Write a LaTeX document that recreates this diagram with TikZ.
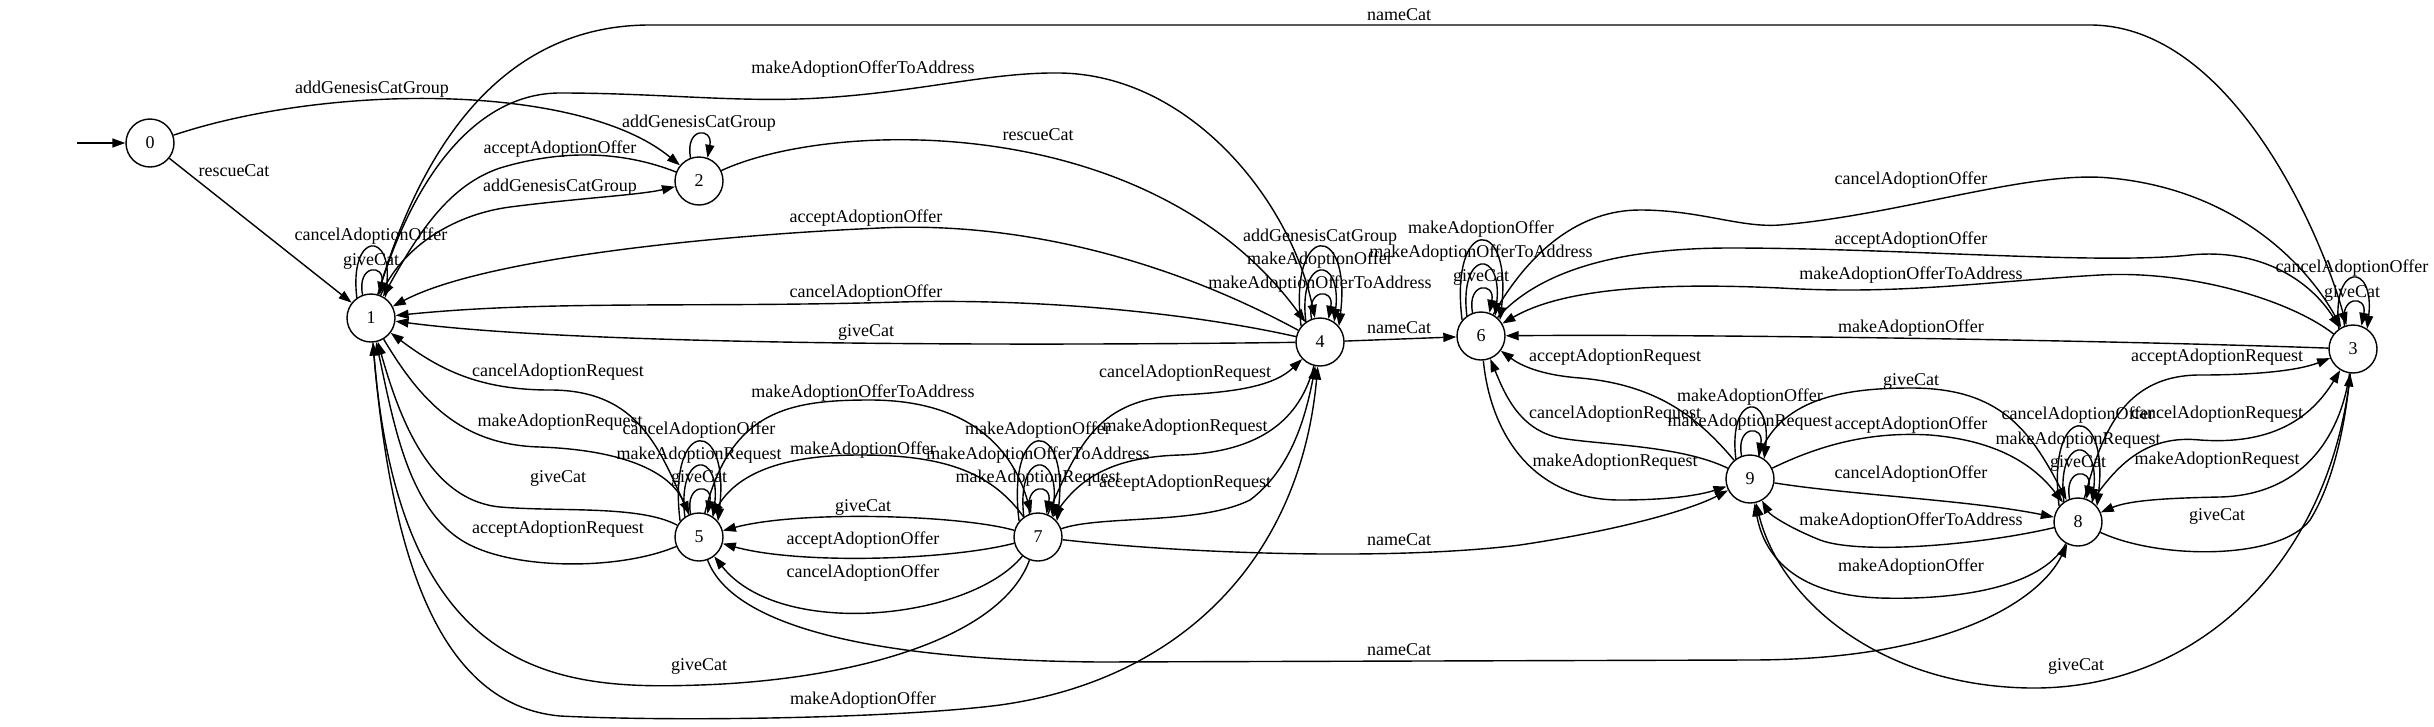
\documentclass[tikz,border=0pt]{standalone}
\usepackage{fontspec}
\setmainfont{Liberation Serif}
\usetikzlibrary{arrows.meta}
\begin{document}
\begin{tikzpicture}[x=1pt,y=-1pt,
  st/.style={circle,draw,line width=1.4pt,minimum size=48pt,inner sep=0pt,font=\fontsize{18}{20}\selectfont},
  e/.style={line width=1.4pt,-{Triangle[length=13pt,width=9pt]}},
  lbl/.style={font=\fontsize{18}{20}\selectfont,inner sep=0pt}]
\useasboundingbox (0,0) rectangle (2434,726);
% states
\node[st] (n0) at (150,143) {0};
\node[st] (n1) at (371,318) {1};
\node[st] (n2) at (699,181) {2};
\node[st] (n5) at (699,537) {5};
\node[st] (n7) at (1038,537) {7};
\node[st] (n4) at (1320,342) {4};
\node[st] (n6) at (1481,336) {6};
\node[st] (n9) at (1750,479) {9};
\node[st] (n8) at (2078,522) {8};
\node[st] (n3) at (2353,349) {3};
\coordinate (init) at (77,143);
\draw[e] (init) -- (n0);
% 0
\draw[e] (n0) .. controls (330,83) and (580,83) .. (n2);
\draw[e] (n0) -- (n1);
% 2
\draw[e] (n2.110) .. controls +(-6,-31) and +(6,-31) .. (n2.70);
\draw[e] (n2) .. controls (620,150) and (560,150) .. (500,168) .. controls (450,185) and (420,230) .. (n1);
\draw[e] (n1) .. controls (400,250) and (450,215) .. (510,207) .. controls (580,198) and (640,195) .. (n2);
\draw[e] (n2) .. controls (830,120) and (1150,110) .. (n4);
% 1
\draw[e] (n1.110) .. controls +(-6,-31) and +(6,-31) .. (n1.70);
\draw[e] (n1.125) .. controls +(-8,-67) and +(8,-67) .. (n1.55);
\draw[e] (n1) .. controls (420,150) and (500,25) .. (650,25) -- (2090,25) .. controls (2230,25) and (2320,230) .. (n3);
\draw[e] (n1) .. controls (415,170) and (480,93) .. (560,93) .. controls (660,93) and (740,103) .. (820,98) .. controls (920,92) and (990,72) .. (1060,73) .. controls (1190,75) and (1290,200) .. (n4);
\draw[e] (n1) .. controls (420,400) and (460,445) .. (540,447) .. controls (620,450) and (670,470) .. (n5);
\draw[e] (n1) .. controls (390,560) and (440,705) .. (560,716) .. controls (680,722) and (900,718) .. (1000,705) .. controls (1180,680) and (1300,560) .. (n4);
% 4
\draw[e] (n4.110) .. controls +(-6,-31) and +(6,-31) .. (n4.70);
\draw[e] (n4.125) .. controls +(-8,-67) and +(8,-67) .. (n4.55);
\draw[e] (n4.140) .. controls +(-13,-105) and +(13,-105) .. (n4.40);
\draw[e] (n4) .. controls (1150,250) and (1000,222) .. (880,228) .. controls (700,236) and (480,260) .. (n1);
\draw[e] (n4) .. controls (1200,315) and (1050,298) .. (900,302) .. controls (700,308) and (550,300) .. (n1);
\draw[e] (n4) .. controls (1100,345) and (600,348) .. (n1);
\draw[e] (n4) -- (n6);
\draw[e] (n4) .. controls (1300,420) and (1260,452) .. (1180,455) .. controls (1110,457) and (1080,480) .. (n7);
% 5
\draw[e] (n5.110) .. controls +(-6,-31) and +(6,-31) .. (n5.70);
\draw[e] (n5.125) .. controls +(-8,-67) and +(8,-67) .. (n5.55);
\draw[e] (n5.140) .. controls +(-13,-105) and +(13,-105) .. (n5.40);
\draw[e] (n5) .. controls (660,450) and (640,390) .. (550,390) .. controls (480,390) and (440,370) .. (n1);
\draw[e] (n5) .. controls (640,505) and (560,512) .. (500,507) .. controls (430,500) and (400,420) .. (n1);
\draw[e] (n5) .. controls (620,570) and (520,570) .. (470,545) .. controls (410,515) and (395,430) .. (n1);
\draw[e] (n5) .. controls (730,410) and (790,400) .. (870,400) .. controls (960,400) and (1010,440) .. (n7);
\draw[e] (n5) .. controls (730,620) and (850,660) .. (1100,662) -- (1750,660) .. controls (1950,660) and (2040,600) .. (n8);
% 7
\draw[e] (n7.110) .. controls +(-6,-31) and +(6,-31) .. (n7.70);
\draw[e] (n7.125) .. controls +(-8,-67) and +(8,-67) .. (n7.55);
\draw[e] (n7.140) .. controls +(-13,-105) and +(13,-105) .. (n7.40);
\draw[e] (n7) .. controls (990,470) and (940,455) .. (860,455) .. controls (790,455) and (740,470) .. (n5);
\draw[e] (n7) .. controls (960,515) and (800,510) .. (n5);
\draw[e] (n7) .. controls (950,560) and (800,565) .. (n5);
\draw[e] (n7) .. controls (970,620) and (780,640) .. (n5);
\draw[e] (n7) .. controls (1080,440) and (1100,400) .. (1180,395) .. controls (1240,392) and (1275,385) .. (n4);
\draw[e] (n7) .. controls (1100,515) and (1200,525) .. (1250,500) .. controls (1290,470) and (1305,420) .. (n4);
\draw[e] (n7) .. controls (1000,640) and (850,680) .. (700,685) .. controls (560,690) and (400,680) .. (n1);
\draw[e] (n7) .. controls (1200,555) and (1400,560) .. (1520,545) .. controls (1620,530) and (1690,510) .. (n9);
% 6
\draw[e] (n6.110) .. controls +(-6,-31) and +(6,-31) .. (n6.70);
\draw[e] (n6.125) .. controls +(-8,-67) and +(8,-67) .. (n6.55);
\draw[e] (n6.140) .. controls +(-13,-105) and +(13,-105) .. (n6.40);
\draw[e] (n6) .. controls (1530,250) and (1580,210) .. (1640,210) .. controls (1700,210) and (1740,228) .. (1780,225) .. controls (1900,215) and (2030,170) .. (2110,178) .. controls (2240,190) and (2310,270) .. (n3);
\draw[e] (n6) .. controls (1540,270) and (1620,248) .. (1730,248) .. controls (1900,248) and (2100,265) .. (2190,255) .. controls (2260,248) and (2310,280) .. (n3);
\draw[e] (n6) .. controls (1490,430) and (1530,500) .. (1620,500) .. controls (1670,500) and (1700,495) .. (n9);
% 3
\draw[e] (n3.110) .. controls +(-6,-31) and +(6,-31) .. (n3.70);
\draw[e] (n3.125) .. controls +(-8,-67) and +(8,-67) .. (n3.55);
\draw[e] (n3) .. controls (2290,300) and (2190,270) .. (2100,275) .. controls (1980,282) and (1900,295) .. (1780,288) .. controls (1650,282) and (1560,290) .. (n6);
\draw[e] (n3) .. controls (2100,340) and (1700,334) .. (n6);
\draw[e] (n3) .. controls (2340,440) and (2300,495) .. (2220,497) .. controls (2170,498) and (2130,500) .. (n8);
\draw[e] (n3) .. controls (2330,560) and (2200,690) .. (2030,688) .. controls (1880,686) and (1780,600) .. (n9);
% 9
\draw[e] (n9.110) .. controls +(-6,-31) and +(6,-31) .. (n9.70);
\draw[e] (n9.125) .. controls +(-8,-67) and +(8,-67) .. (n9.55);
\draw[e] (n9) .. controls (1700,420) and (1660,385) .. (1580,378) .. controls (1540,375) and (1520,365) .. (n6);
\draw[e] (n9) .. controls (1680,445) and (1600,445) .. (1560,438) .. controls (1520,430) and (1505,395) .. (n6);
\draw[e] (n9) .. controls (1780,400) and (1840,388) .. (1911,388) .. controls (2000,388) and (2030,430) .. (n8);
\draw[e] (n9) .. controls (1830,440) and (1880,432) .. (1930,435) .. controls (1990,440) and (2030,460) .. (n8);
\draw[e] (n9) .. controls (1850,495) and (1970,500) .. (n8);
% 8
\draw[e] (n8.110) .. controls +(-6,-31) and +(6,-31) .. (n8.70);
\draw[e] (n8.125) .. controls +(-8,-67) and +(8,-67) .. (n8.55);
\draw[e] (n8.140) .. controls +(-13,-105) and +(13,-105) .. (n8.40);
\draw[e] (n8) .. controls (1980,545) and (1860,555) .. (1820,540) .. controls (1790,528) and (1770,515) .. (n9);
\draw[e] (n8) .. controls (2040,590) and (1950,600) .. (1880,598) .. controls (1800,595) and (1765,560) .. (n9);
\draw[e] (n8) .. controls (2100,440) and (2120,375) .. (2200,375) .. controls (2260,375) and (2300,370) .. (n3);
\draw[e] (n8) .. controls (2120,460) and (2150,435) .. (2200,440) .. controls (2270,445) and (2310,420) .. (n3);
\draw[e] (n8) .. controls (2160,560) and (2280,560) .. (2310,520) .. controls (2335,480) and (2345,420) .. (n3);
% labels
\node[lbl] (l1) at (372,89) {addGenesisCatGroup};
\node[lbl] (l2) at (234,171) {rescueCat};
\node[lbl] (l3) at (699,123) {addGenesisCatGroup};
\node[lbl] (l4) at (560,149) {acceptAdoptionOffer};
\node[lbl] (l5) at (560,187) {addGenesisCatGroup};
\node[lbl] (l6) at (371,236) {cancelAdoptionOffer};
\node[lbl] (l7) at (371,261) {giveCat};
\node[lbl] (l8) at (1399,15) {nameCat};
\node[lbl] (l9) at (863,69) {makeAdoptionOfferToAddress};
\node[lbl] (l10) at (1038,135) {rescueCat};
\node[lbl] (l11) at (866,218) {acceptAdoptionOffer};
\node[lbl] (l12) at (866,293) {cancelAdoptionOffer};
\node[lbl] (l13) at (866,332) {giveCat};
\node[lbl] (l14) at (1399,328) {nameCat};
\node[lbl] (l15) at (1320,237) {addGenesisCatGroup};
\node[lbl] (l16) at (1320,260) {makeAdoptionOffer};
\node[lbl] (l17) at (1320,284) {makeAdoptionOfferToAddress};
\node[lbl] (l18) at (1481,229) {makeAdoptionOffer};
\node[lbl] (l19) at (1481,253) {makeAdoptionOfferToAddress};
\node[lbl] (l20) at (1481,277) {giveCat};
\node[lbl] (l21) at (1911,180) {cancelAdoptionOffer};
\node[lbl] (l22) at (1911,240) {acceptAdoptionOffer};
\node[lbl] (l23) at (1911,275) {makeAdoptionOfferToAddress};
\node[lbl] (l24) at (1911,328) {makeAdoptionOffer};
\node[lbl] (l25) at (2352,268) {cancelAdoptionOffer};
\node[lbl] (l26) at (2352,293) {giveCat};
\node[lbl] (l27) at (1615,357) {acceptAdoptionRequest};
\node[lbl] (l28) at (1615,414) {cancelAdoptionRequest};
\node[lbl] (l29) at (1615,462) {makeAdoptionRequest};
\node[lbl] (l30) at (1750,397) {makeAdoptionOffer};
\node[lbl] (l31) at (1750,422) {makeAdoptionRequest};
\node[lbl] (l32) at (1911,381) {giveCat};
\node[lbl] (l33) at (1911,425) {acceptAdoptionOffer};
\node[lbl] (l34) at (1911,474) {cancelAdoptionOffer};
\node[lbl] (l35) at (1911,521) {makeAdoptionOfferToAddress};
\node[lbl] (l36) at (1911,567) {makeAdoptionOffer};
\node[lbl] (l37) at (2078,415) {cancelAdoptionOffer};
\node[lbl] (l38) at (2078,440) {makeAdoptionRequest};
\node[lbl] (l39) at (2078,463) {giveCat};
\node[lbl] (l40) at (2217,357) {acceptAdoptionRequest};
\node[lbl] (l41) at (2217,414) {cancelAdoptionRequest};
\node[lbl] (l42) at (2217,460) {makeAdoptionRequest};
\node[lbl] (l43) at (2217,516) {giveCat};
\node[lbl] (l44) at (2076,666) {giveCat};
\node[lbl] (l45) at (1399,540) {nameCat};
\node[lbl] (l46) at (1399,650) {nameCat};
\node[lbl] (l47) at (558,372) {cancelAdoptionRequest};
\node[lbl] (l48) at (560,422) {makeAdoptionRequest};
\node[lbl] (l49) at (558,478) {giveCat};
\node[lbl] (l50) at (558,529) {acceptAdoptionRequest};
\node[lbl] (l51) at (699,430) {cancelAdoptionOffer};
\node[lbl] (l52) at (699,455) {makeAdoptionRequest};
\node[lbl] (l53) at (699,478) {giveCat};
\node[lbl] (l54) at (863,393) {makeAdoptionOfferToAddress};
\node[lbl] (l55) at (863,450) {makeAdoptionOffer};
\node[lbl] (l56) at (863,507) {giveCat};
\node[lbl] (l57) at (863,540) {acceptAdoptionOffer};
\node[lbl] (l58) at (863,573) {cancelAdoptionOffer};
\node[lbl] (l59) at (1038,430) {makeAdoptionOffer};
\node[lbl] (l60) at (1038,455) {makeAdoptionOfferToAddress};
\node[lbl] (l61) at (1038,478) {makeAdoptionRequest};
\node[lbl] (l62) at (1185,373) {cancelAdoptionRequest};
\node[lbl] (l63) at (1185,427) {makeAdoptionRequest};
\node[lbl] (l64) at (1185,483) {acceptAdoptionRequest};
\node[lbl] (l65) at (699,666) {giveCat};
\node[lbl] (l66) at (863,700) {makeAdoptionOffer};
\end{tikzpicture}
\end{document}
